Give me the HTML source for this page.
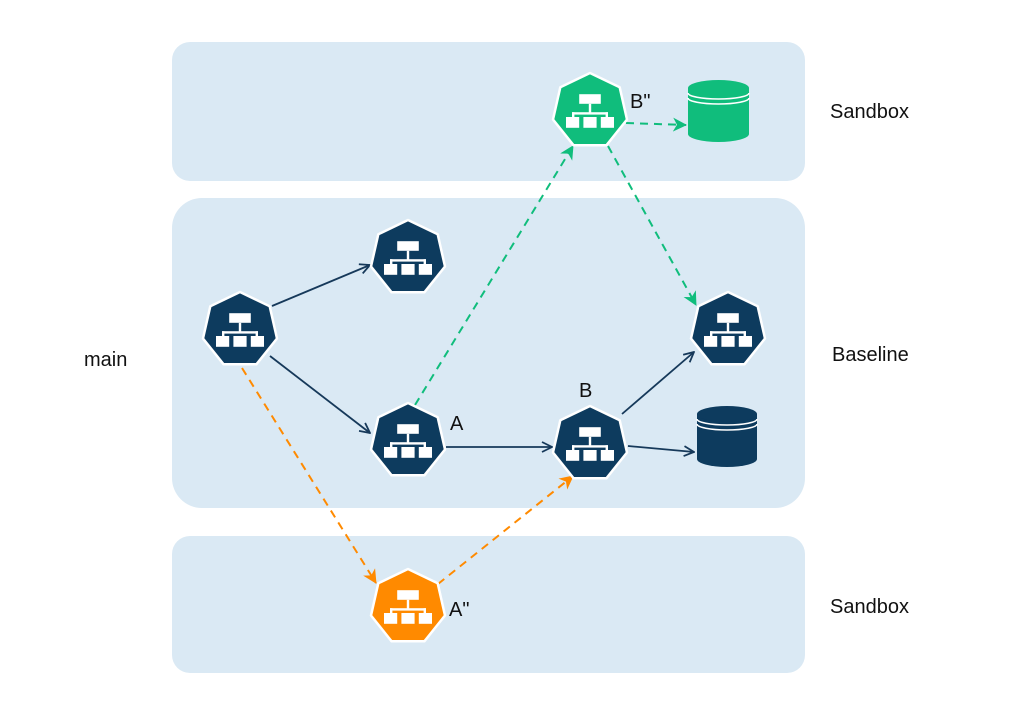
<!DOCTYPE html>
<html><head><meta charset="utf-8"><style>
html,body{margin:0;padding:0;background:#fff;}
svg{display:block;font-family:"Liberation Sans",Arial,sans-serif;}
</style></head><body>
<svg width="1024" height="721" viewBox="0 0 1024 721" xmlns="http://www.w3.org/2000/svg">
<defs>
<g id="icon0" fill="#fff" stroke="none">
<rect x="-9" y="-15" width="18" height="8"/>
<rect x="-1" y="-7" width="2" height="8"/>
<rect x="-15" y="0" width="30" height="2"/>
<rect x="-15" y="0" width="2" height="5"/>
<rect x="13" y="0" width="2" height="5"/>
<rect x="-20" y="4" width="11" height="9"/>
<rect x="-5.5" y="4" width="11" height="9"/>
<rect x="9" y="4" width="11" height="9"/>
</g>
<g id="icon" transform="scale(1.2) translate(0,1)"><use href="#icon0"/></g>
<polygon id="hep" points="0,-38 29.7,-23.7 37,8.5 16.5,34.2 -16.5,34.2 -37,8.5 -29.7,-23.7" stroke="#fff" stroke-width="2.5" stroke-linejoin="round"/>
<marker id="an" viewBox="0 0 12 12" refX="11" refY="6" markerWidth="12" markerHeight="12" markerUnits="userSpaceOnUse" orient="auto">
<path d="M1,1 L11,6 L1,11" fill="none" stroke="#16395a" stroke-width="1.8"/></marker>
<marker id="ag" viewBox="0 0 14 14" refX="13" refY="7" markerWidth="14" markerHeight="14" markerUnits="userSpaceOnUse" orient="auto">
<path d="M0,0 L14,7 L0,14 L4,7 Z" fill="#10bd7c"/></marker>
<marker id="ao" viewBox="0 0 14 14" refX="13" refY="7" markerWidth="14" markerHeight="14" markerUnits="userSpaceOnUse" orient="auto">
<path d="M0,0 L14,7 L0,14 L4,7 Z" fill="#ff8a00"/></marker>
</defs>
<rect x="172" y="42" width="633" height="139" rx="18" fill="#dae9f4"/>
<rect x="172" y="198" width="633" height="310" rx="30" fill="#dae9f4"/>
<rect x="172" y="536" width="633" height="137" rx="18" fill="#dae9f4"/>
<text x="830" y="118" font-size="20" fill="#111">Sandbox</text>
<text x="832" y="361" font-size="20" fill="#111">Baseline</text>
<text x="830" y="613" font-size="20" fill="#111">Sandbox</text>
<text x="84" y="366" font-size="20" fill="#111">main</text>
<g stroke="#16395a" stroke-width="1.8" fill="none">
<line x1="272" y1="306" x2="370" y2="265" marker-end="url(#an)"/>
<line x1="270" y1="356" x2="370" y2="433" marker-end="url(#an)"/>
<line x1="446" y1="447" x2="552" y2="447" marker-end="url(#an)"/>
<line x1="622" y1="414" x2="694" y2="352" marker-end="url(#an)"/>
<line x1="628" y1="446" x2="694" y2="452" marker-end="url(#an)"/>
</g>
<g stroke-width="2" fill="none" stroke-dasharray="8,6">
<line x1="415" y1="405" x2="573" y2="146" stroke="#10bd7c" marker-end="url(#ag)"/>
<line x1="626" y1="123" x2="686" y2="125" stroke="#10bd7c" marker-end="url(#ag)"/>
<line x1="608" y1="146" x2="696" y2="305" stroke="#10bd7c" marker-end="url(#ag)"/>
<line x1="242" y1="368" x2="376" y2="583" stroke="#ff8a00" marker-end="url(#ao)"/>
<line x1="438" y1="584" x2="573" y2="476" stroke="#ff8a00" marker-end="url(#ao)"/>
</g>
<g fill="#0d3b5e"><g transform="translate(240,330)"><use href="#hep"/><use href="#icon"/></g></g>
<g fill="#0d3b5e"><g transform="translate(408,258)"><use href="#hep"/><use href="#icon"/></g></g>
<g fill="#0d3b5e"><g transform="translate(408,441)"><use href="#hep"/><use href="#icon"/></g></g>
<g fill="#0d3b5e"><g transform="translate(590,444)"><use href="#hep"/><use href="#icon"/></g></g>
<g fill="#0d3b5e"><g transform="translate(728,330)"><use href="#hep"/><use href="#icon"/></g></g>
<g fill="#10bd7c"><g transform="translate(590,111)"><use href="#hep"/><use href="#icon"/></g></g>
<g fill="#ff8a00"><g transform="translate(408,607)"><use href="#hep"/><use href="#icon"/></g></g>
<text x="450" y="430" font-size="20" fill="#111">A</text>
<text x="579" y="397" font-size="20" fill="#111">B</text>
<text x="630" y="108" font-size="20" fill="#111">B"</text>
<text x="449" y="616" font-size="20" fill="#111">A"</text>
<g>
<path d="M688,88 L688,134 A30.5,8 0 0 0 749,134 L749,88 Z" fill="#10bd7c"/>
<ellipse cx="718.5" cy="88" rx="30.5" ry="8" fill="#10bd7c"/>
<path d="M688,93 A30.5,6 0 0 0 749,93 M688,98 A30.5,6 0 0 0 749,98" stroke="#fff" stroke-width="1.6" fill="none"/>
</g>
<g>
<path d="M697,414 L697,459 A30,8 0 0 0 757,459 L757,414 Z" fill="#0d3b5e"/>
<ellipse cx="727" cy="414" rx="30" ry="8" fill="#0d3b5e"/>
<path d="M697,419 A30,6 0 0 0 757,419 M697,424 A30,6 0 0 0 757,424" stroke="#fff" stroke-width="1.6" fill="none"/>
</g>
</svg>
</body></html>
